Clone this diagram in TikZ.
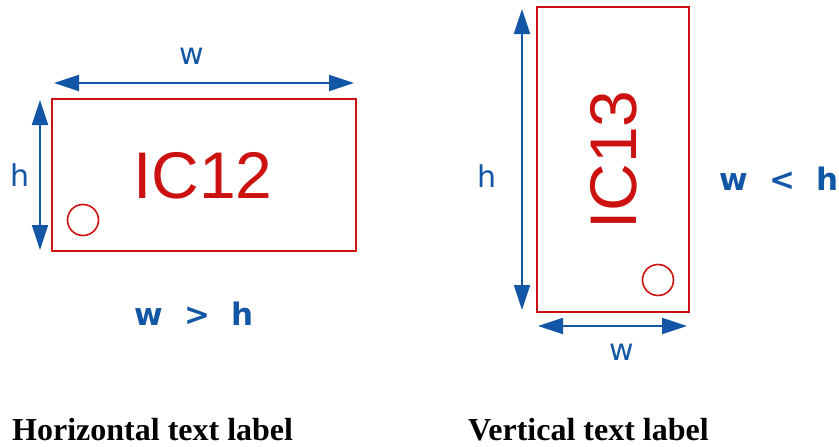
\documentclass[tikz,border=0pt]{standalone}
\usepackage{fontspec}
\setmainfont{Liberation Serif}
\newfontfamily\arialf{Liberation Sans}
\newfontfamily\dejaf{DejaVu Sans}
\usetikzlibrary{arrows.meta}
\definecolor{icred}{HTML}{CC1111}
\definecolor{dimblue}{HTML}{1257A6}
\tikzset{
  chip/.style={draw=icred, line width=2.5pt},
  pin/.style={draw=icred, line width=1.6pt},
  dimarrow/.style={draw=dimblue, line width=1.8pt, {Triangle[length=25pt,width=16pt]}-{Triangle[length=25pt,width=16pt]}},
  dimlabel/.style={text=dimblue, font=\dejaf\fontsize{30}{30}\selectfont, inner sep=0pt, anchor=base},
  rellabel/.style={text=dimblue, font=\dejaf\bfseries\fontsize{31}{31}\selectfont, inner sep=0pt, anchor=base west, text depth=0pt},
  icname/.style={text=icred, font=\arialf\fontsize{66}{66}\selectfont, inner sep=0pt, anchor=base},
  caption/.style={font=\bfseries\fontsize{32}{32}\selectfont, inner sep=0pt, anchor=base west, text depth=0pt}
}
\begin{document}
\begin{tikzpicture}[x=1pt,y=-1pt]
\useasboundingbox (0,0) rectangle (839,447);
% left chip
\draw[chip] (52,99) rectangle (356,251);
\node[pin, circle, minimum size=31pt, inner sep=0pt] (pinA) at (83,220) {};
\node[icname] (ic12) at (203,198) {IC12};
\coordinate (wAl) at (54,83);
\coordinate (wAr) at (354,83);
\draw[dimarrow] (wAl) -- (wAr);
\coordinate (hAt) at (40,100);
\coordinate (hAb) at (40,250);
\draw[dimarrow] (hAt) -- (hAb);
\node[dimlabel] (wA) at (192,64) {w};
\node[dimlabel] (hA) at (20,186) {h};
\node[rellabel] (relA) at (134,325) {w\ \ >\ \ h};
% right chip
\draw[chip] (537,7) rectangle (689,312);
\node[pin, circle, minimum size=31pt, inner sep=0pt] (pinB) at (658,280) {};
\node[icname, rotate=90] (ic13) at (636,160) {IC13};
\coordinate (hBt) at (522,9);
\coordinate (hBb) at (522,310);
\draw[dimarrow] (hBt) -- (hBb);
\coordinate (wBl) at (538,326);
\coordinate (wBr) at (687,326);
\draw[dimarrow] (wBl) -- (wBr);
\node[dimlabel] (hB) at (487,187) {h};
\node[dimlabel] (wB) at (622,360) {w};
\node[rellabel] (relB) at (719,190) {w\ \ <\ \ h};
% captions
\node[caption] (capA) at (12,440) {Horizontal text label};
\node[caption] (capB) at (468,440) {Vertical text label};
\end{tikzpicture}
\end{document}
